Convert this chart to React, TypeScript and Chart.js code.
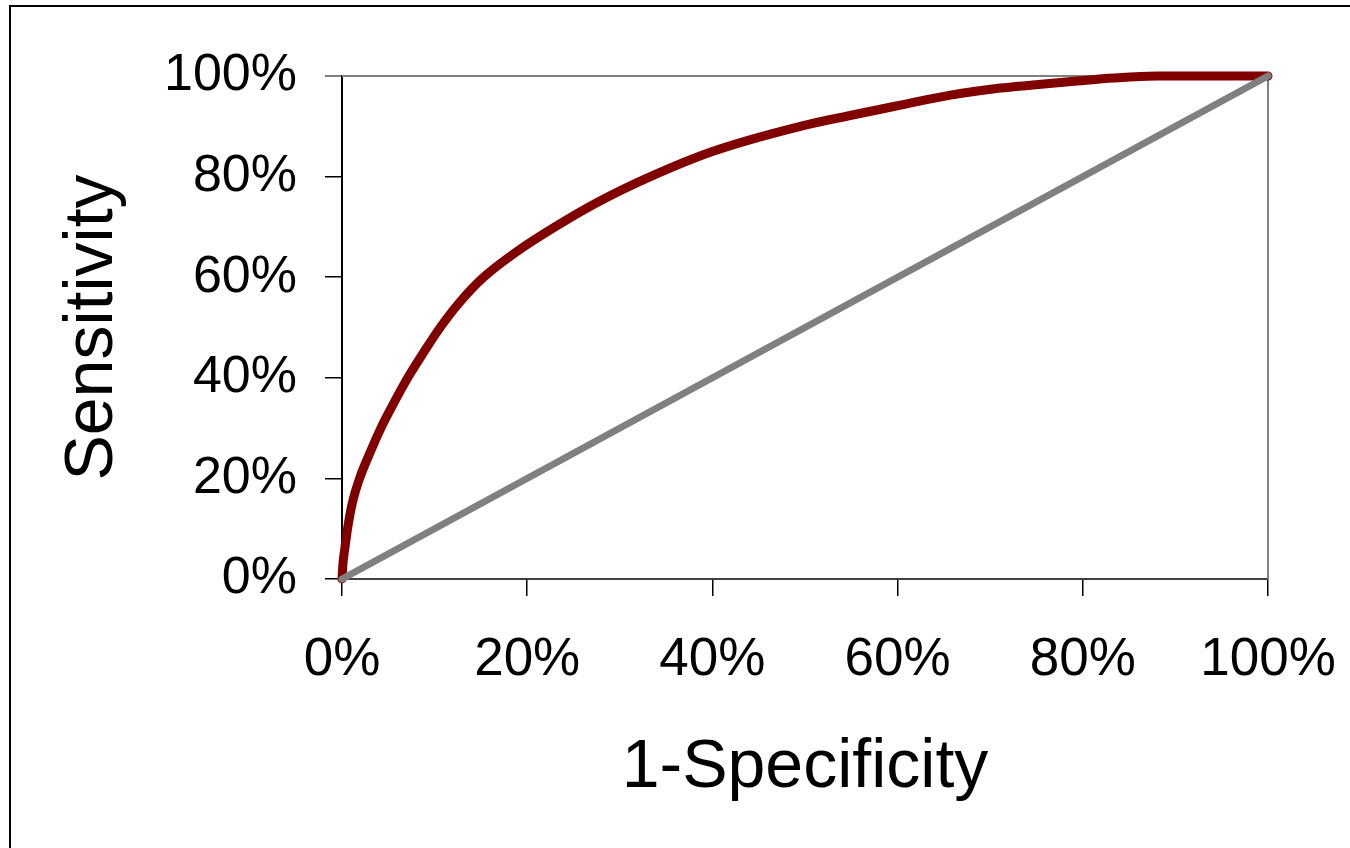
import React, { useEffect, useRef } from "react";
import { Chart, registerables } from "chart.js";

Chart.register(...registerables);

const fpr = [0, 0.001, 0.003, 0.006, 0.011, 0.019, 0.03, 0.042, 0.056, 0.071, 0.088, 0.106, 0.127, 0.153, 0.188, 0.23, 0.277, 0.333, 0.4, 0.495, 0.55, 0.603, 0.657, 0.711, 0.746, 0.794, 0.833, 0.88, 0.94, 1.0];
const tpr = [0, 0.03, 0.06, 0.1, 0.15, 0.2, 0.25, 0.3, 0.35, 0.4, 0.45, 0.5, 0.55, 0.6, 0.65, 0.7, 0.75, 0.8, 0.85, 0.9, 0.922, 0.942, 0.962, 0.976, 0.982, 0.99, 0.996, 1.0, 1.0, 1.0];
const diagX = [0, 1];
const diagY = [0, 1];
const tickValues = [0, 0.2, 0.4, 0.6, 0.8, 1.0];
const xTitle = "1-Specificity";
const yTitle = "Sensitivity";

const FONT = "'Liberation Sans', Arial, Helvetica, sans-serif";

const framePlugin = {
  id: "frame",
  beforeDatasetsDraw(chart: any) {
    const { ctx, chartArea } = chart;
    ctx.save();
    ctx.strokeStyle = "#808080";
    ctx.lineWidth = 2;
    ctx.beginPath();
    ctx.moveTo(chartArea.left, chartArea.top);
    ctx.lineTo(chartArea.right, chartArea.top);
    ctx.lineTo(chartArea.right, chartArea.bottom);
    ctx.stroke();
    ctx.restore();
  },
  afterDraw(chart: any) {
    const { ctx } = chart;
    ctx.save();
    ctx.strokeStyle = "#000";
    ctx.lineWidth = 2;
    ctx.beginPath();
    ctx.moveTo(10, 848);
    ctx.lineTo(10, 6);
    ctx.lineTo(1350, 6);
    ctx.stroke();
    ctx.restore();
  },
};

export default function App() {
  const ref = useRef<HTMLCanvasElement | null>(null);
  useEffect(() => {
    if (!ref.current) return;
    const chart = new Chart(ref.current, {
      type: "scatter",
      data: {
        datasets: [
          {
            label: "ROC",
            data: fpr.map((x, i) => ({ x, y: tpr[i] })),
            showLine: true,
            borderColor: "#800000",
            backgroundColor: "#800000",
            borderWidth: 9,
            pointRadius: 0,
            tension: 0.3,
            cubicInterpolationMode: "monotone",
            borderCapStyle: "round",
            borderJoinStyle: "round",
            clip: false,
            order: 2,
          },
          {
            label: "Diagonal",
            data: diagX.map((x, i) => ({ x, y: diagY[i] })),
            showLine: true,
            borderColor: "#808080",
            backgroundColor: "#808080",
            borderWidth: 7,
            pointRadius: 0,
            borderCapStyle: "round",
            clip: false,
            order: 1,
          },
        ],
      },
      options: {
        animation: false,
        responsive: false,
        layout: { padding: { left: 20, top: 76, right: 82, bottom: 0 } },
        plugins: { legend: { display: false }, tooltip: { enabled: false } },
        scales: {
          x: {
            type: "linear",
            min: 0,
            max: 1,
            afterBuildTicks: (s: any) => {
              s.ticks = tickValues.map((v) => ({ value: v }));
            },
            afterFit: (s: any) => {
              s.height = 848 - 579;
              s.paddingLeft = 0;
              s.paddingRight = 0;
            },
            ticks: {
              color: "#000",
              font: { family: FONT, size: 53 },
              padding: 33,
              maxRotation: 0,
              callback: (v: any) => Math.round(Number(v) * 100) + "%",
            },
            grid: {
              drawOnChartArea: false,
              drawTicks: true,
              tickLength: 17,
              color: "#000",
              lineWidth: 1.5,
            },
            border: { color: "#404040", width: 2 },
            title: {
              display: true,
              text: xTitle,
              color: "#000",
              font: { family: FONT, size: 68, lineHeight: 1.2 },
              padding: { top: 0, bottom: 39 },
            },
          },
          y: {
            type: "linear",
            min: 0,
            max: 1,
            afterBuildTicks: (s: any) => {
              s.ticks = tickValues.map((v) => ({ value: v }));
            },
            afterFit: (s: any) => {
              s.width = 342 - 20;
              s.paddingTop = 0;
              s.paddingBottom = 0;
            },
            ticks: {
              color: "#000",
              font: { family: FONT, size: 52 },
              padding: 28,
              callback: (v: any) => Math.round(Number(v) * 100) + "%",
            },
            grid: {
              drawOnChartArea: false,
              drawTicks: true,
              tickLength: 17,
              color: (c: any) => (c.tick && c.tick.value === 1 ? "#808080" : "#000"),
              lineWidth: (c: any) => (c.tick && c.tick.value === 1 ? 2 : 1.5),
            },
            border: { color: "#000", width: 2 },
            title: {
              display: true,
              text: yTitle,
              color: "#000",
              font: { family: FONT, size: 68, lineHeight: 1.2 },
              padding: { top: 32, bottom: 0 },
            },
          },
        },
      },
      plugins: [framePlugin],
    });
    return () => chart.destroy();
  }, []);
  return (
    <div style={{ position: "absolute", left: 0, top: 0, width: 1350, height: 848, background: "#fff" }}>
      <canvas ref={ref} width={1350} height={848} style={{ display: "block" }} />
    </div>
  );
}
